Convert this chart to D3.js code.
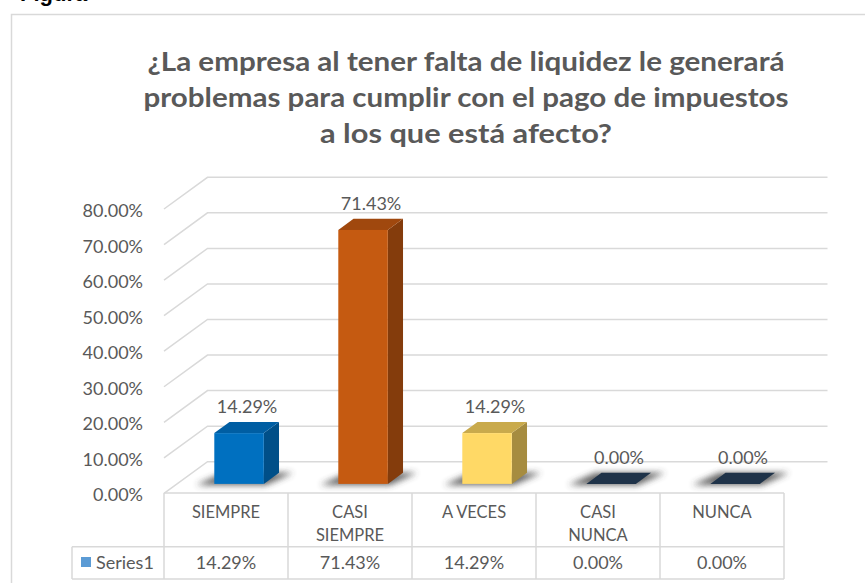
<!DOCTYPE html>
<html>
<head>
<meta charset="utf-8">
<script src="https://cdn.jsdelivr.net/npm/d3@7"></script>
<style>
  body { margin: 0; background: #fff; }
  text { font-family: Lato, "Noto Sans", sans-serif; }
</style>
</head>
<body>
<div id="chart"></div>
<script>
// chart data
var categories = ["SIEMPRE", "CASI SIEMPRE", "A VECES", "CASI NUNCA", "NUNCA"];
var headerLines = [["SIEMPRE"], ["CASI", "SIEMPRE"], ["A VECES"], ["CASI", "NUNCA"], ["NUNCA"]];
var values = [0.1429, 0.7143, 0.1429, 0.0, 0.0];
var yTicks = [0, 0.1, 0.2, 0.3, 0.4, 0.5, 0.6, 0.7, 0.8];
var seriesName = "Series1";
var titleLines = [
    "¿La empresa al tener falta de liquidez le generará",
    "problemas para cumplir con el pago de impuestos",
    "a los que está afecto?"
];
var frontColors = ["#0070c0", "#c55a11", "#ffd966", "#1f3349", "#1f3349"];
var sideColors = ["#004f88", "#843c0c", "#a68c40", "#1f3349", "#1f3349"];
var topColors = ["#005ea3", "#a0480e", "#c9aa4c", "#1f3349", "#1f3349"];

var width = 865, height = 583;
var textColor = "#595959", gridColor = "#d9d9d9";

var svg = d3.select("#chart").append("svg").attr("width", width).attr("height", height);

var defs = svg.append("defs");
defs.append("filter").attr("id", "blur").attr("x", "-50%").attr("y", "-100%")
    .attr("width", "200%").attr("height", "300%")
    .append("feGaussianBlur").attr("stdDeviation", 3);

// cut off caption above the chart
svg.append("text").attr("x", 20).attr("y", 1)
    .attr("font-size", 22).attr("font-weight", "bold").attr("fill", "#000")
    .style("font-family", "Arial, 'Liberation Sans', sans-serif")
    .text("Figura");

// chart border
svg.append("path").attr("d", "M11.5,583 L11.5,14.5 L865,14.5")
    .attr("fill", "none").attr("stroke", gridColor).attr("stroke-width", 1.5);

// title
var titleWidths = [637, 645, 292];
svg.append("g").selectAll("text").data(titleLines).enter().append("text")
    .attr("x", 466).attr("y", function (d, i) { return 71 + i * 36; })
    .attr("text-anchor", "middle").attr("font-size", 27).attr("font-weight", "bold")
    .attr("fill", textColor)
    .attr("textLength", function (d, i) { return titleWidths[i]; })
    .attr("lengthAdjust", "spacingAndGlyphs")
    .text(function (d) { return d; });

// scales (front plane)
var x = d3.scaleBand().domain(categories).range([164, 784]);
var y = d3.scaleLinear().domain([0, 0.8]).range([493.4, 209]);
var depthX = 43.5, depthY = -31.7;
function proj(px, py, d) { return [px + d * depthX, py + d * depthY]; }

// walls
var grid = svg.append("g");
yTicks.forEach(function (t) {
    var f = proj(x.range()[0], y(t), 0);
    var b = proj(x.range()[0], y(t), 1);
    var e = proj(x.range()[1], y(t), 1);
    grid.append("path")
        .attr("d", "M" + f + " L" + b + " L" + e)
        .attr("fill", "none").attr("stroke", gridColor).attr("stroke-width", 1.5);
});

// y axis labels
svg.append("g").selectAll("text").data(yTicks).enter().append("text")
    .attr("x", 143).attr("y", function (d) { return y(d) + 8; })
    .attr("text-anchor", "end").attr("font-size", 18).attr("fill", textColor)
    .text(d3.format(".2%"));

// bars
var barW = 49.5, dFront = 0.3, dBack = 0.65;
var bars = categories.map(function (c, i) {
    var cx = x(c) + x.bandwidth() / 2;
    var f0 = proj(cx - barW / 2, y(0), dFront);
    var f1 = proj(cx + barW / 2, y(values[i]), dFront);
    var b0 = proj(cx - barW / 2, y(0), dBack);
    var b1 = proj(cx + barW / 2, y(values[i]), dBack);
    return {i: i, v: values[i], x0: f0[0], x1: f1[0], yb: f0[1], yt: f1[1],
        bx0: b0[0], bx1: b1[0], byb: b0[1], byt: b1[1], cx: cx};
});

// shadows
svg.append("g").selectAll("polygon").data(bars).enter().append("polygon")
    .attr("points", function (d) {
        return [[d.x0 - 18, d.yb + 1], [d.x1 + 2, d.yb + 1], [d.bx1 + 14, d.byb], [d.bx0 - 6, d.byb]].join(" ");
    })
    .attr("fill", "#3a3a3a").attr("opacity", 0.8).attr("filter", "url(#blur)");

var barG = svg.append("g").selectAll("g").data(bars).enter().append("g");
barG.append("polygon")
    .attr("points", function (d) {
        return [[d.x1, d.yb], [d.bx1, d.byb], [d.bx1, d.byt], [d.x1, d.yt]].join(" ");
    })
    .attr("fill", function (d) { return sideColors[d.i]; });
barG.append("polygon")
    .attr("points", function (d) {
        return [[d.x0, d.yt], [d.x1, d.yt], [d.bx1, d.byt], [d.bx0, d.byt]].join(" ");
    })
    .attr("fill", function (d) { return topColors[d.i]; });
barG.append("rect")
    .attr("x", function (d) { return d.x0; })
    .attr("y", function (d) { return d.yt; })
    .attr("width", function (d) { return d.x1 - d.x0; })
    .attr("height", function (d) { return d.yb - d.yt; })
    .attr("fill", function (d) { return frontColors[d.i]; });

// data labels
svg.append("g").selectAll("text").data(bars).enter().append("text")
    .attr("x", function (d) { return (d.x0 + d.x1) / 2 + 8; })
    .attr("y", function (d) { return d.yt - 20; })
    .attr("text-anchor", "middle").attr("font-size", 18).attr("fill", textColor)
    .text(function (d) { return d3.format(".2%")(d.v); });

// data table
var tTop = 493, tMid = 546.7, tBot = 579, legendLeft = 72;
var table = svg.append("g").attr("stroke", gridColor).attr("stroke-width", 1.5).attr("fill", "none");
table.append("line").attr("x1", x.range()[0]).attr("x2", x.range()[1]).attr("y1", tTop).attr("y2", tTop);
table.append("line").attr("x1", legendLeft).attr("x2", x.range()[1]).attr("y1", tMid).attr("y2", tMid);
table.append("line").attr("x1", legendLeft).attr("x2", x.range()[1]).attr("y1", tBot).attr("y2", tBot);
table.append("line").attr("x1", legendLeft).attr("x2", legendLeft).attr("y1", tMid).attr("y2", tBot);
categories.concat([null]).forEach(function (c) {
    var xx = c === null ? x.range()[1] : x(c);
    table.append("line").attr("x1", xx).attr("x2", xx).attr("y1", tTop).attr("y2", tBot);
});

var headers = svg.append("g").selectAll("text").data(categories).enter().append("text")
    .attr("text-anchor", "middle").attr("font-size", 16.5).attr("fill", textColor);
headers.each(function (c, i) {
    var t = d3.select(this);
    headerLines[i].forEach(function (line, k) {
        t.append("tspan").attr("x", x(c) + x.bandwidth() / 2).attr("y", 517.5 + k * 23.5).text(line);
    });
});

svg.append("g").selectAll("text").data(values).enter().append("text")
    .attr("x", function (d, i) { return x(categories[i]) + x.bandwidth() / 2; })
    .attr("y", 569).attr("text-anchor", "middle").attr("font-size", 18).attr("fill", textColor)
    .text(d3.format(".2%"));

svg.append("rect").attr("x", 81).attr("y", 557).attr("width", 10).attr("height", 10).attr("fill", "#5b9bd5");
svg.append("text").attr("x", 96).attr("y", 569).attr("font-size", 18).attr("fill", textColor).text(seriesName);
</script>
</body>
</html>
